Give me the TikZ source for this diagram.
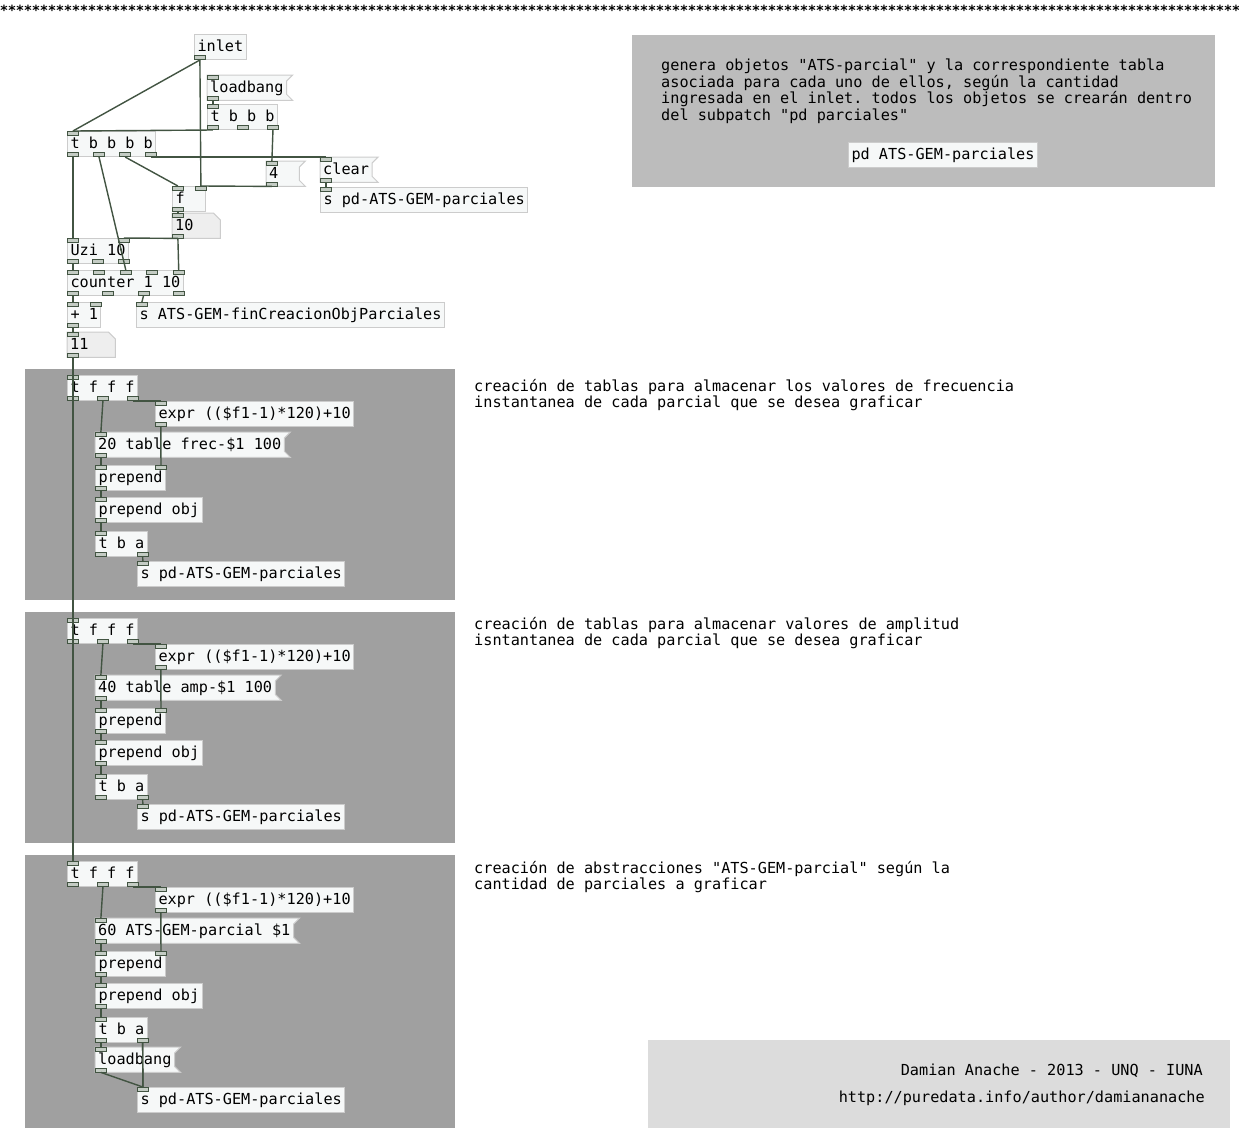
\documentclass[tikz,border=0pt]{standalone}
\usepackage{fontspec}
\setmonofont{DejaVu Sans Mono}
\usetikzlibrary{calc,backgrounds}

\definecolor{secgray}{RGB}{160,160,160}
\definecolor{infogray}{RGB}{188,188,188}
\definecolor{creditgray}{RGB}{220,220,220}
\definecolor{boxfill}{RGB}{246,248,248}
\definecolor{boxline}{RGB}{204,204,204}
\definecolor{atomfill}{RGB}{238,238,238}
\definecolor{cordcol}{RGB}{66,84,66}
\definecolor{iofill}{RGB}{196,204,196}

\newcommand\pdfont{\ttfamily\fontsize{15.2}{16.5}\selectfont}

% inlets and outlets, evenly spread over the box
\newcommand\pdio[3]{%
  \ifnum#2>0
    \foreach \k in {1,...,#2}{%
      \pgfmathsetmacro\iofrac{(\k-1)/max(#2-1,1)}%
      \node[iolet,anchor=north west] (#1-i\k) at ($(#1.north west)!\iofrac!([xshift=-11pt]#1.north east)$) {};}%
  \fi
  \ifnum#3>0
    \foreach \k in {1,...,#3}{%
      \pgfmathsetmacro\iofrac{(\k-1)/max(#3-1,1)}%
      \node[iolet,anchor=south west] (#1-o\k) at ($(#1.south west)!\iofrac!([xshift=-11pt]#1.south east)$) {};}%
  \fi}
\newcommand\pdobj[6][]{\node[pdobj,#1] (#2) at (#3) {#4};\pdio{#2}{#5}{#6}}
\newcommand\pdmsg[6][]{\node[pdbox,#1] (#2) at (#3) {#4};
  \begin{scope}[on background layer]
    \filldraw[draw=boxline,fill=boxfill,line width=1pt] (#2.north west) -- ([xshift=6pt]#2.north east)
      -- ([yshift=-6pt]#2.north east) -- ([yshift=6pt]#2.south east)
      -- ([xshift=6pt]#2.south east) -- (#2.south west) -- cycle;
  \end{scope}\pdio{#2}{#5}{#6}}
\newcommand\pdatom[5]{\node[pdbox,text width=42pt] (#1) at (#2) {#3};
  \begin{scope}[on background layer]
    \filldraw[draw=boxline,fill=atomfill,line width=1pt] (#1.north west) -- ([xshift=-7pt]#1.north east)
      -- ([yshift=-7pt]#1.north east) -- (#1.south east) -- (#1.south west) -- cycle;
  \end{scope}\pdio{#1}{#4}{#5}}

\begin{document}
\begin{tikzpicture}[x=1pt,y=-1pt,every node/.style={font=\pdfont},
    pdbox/.style={anchor=north west,inner xsep=3pt,inner ysep=0pt,minimum height=25pt,
      text height=12pt,text depth=3pt,align=left},
    pdobj/.style={pdbox,draw=boxline,fill=boxfill,line width=1pt},
    iolet/.style={draw=cordcol,fill=iofill,line width=.8pt,inner sep=0pt,
      minimum width=11pt,minimum height=4pt},
    cord/.style={cordcol,line width=1.4pt},
    comment/.style={anchor=north west,inner sep=0pt,align=left}]
    \useasboundingbox (0,0) rectangle (1239,1128);
    \begin{scope}[on background layer]
        \fill[white] (0,0) rectangle (1239,1128);
        \fill[infogray] (632,35) rectangle (1215,187);
        \fill[creditgray] (648,1040) rectangle (1230,1128);
        \foreach \sx/\cb in {0/600,1/600,2/642}
            \fill[secgray] (25,{369+243*\sx}) rectangle (455,{\cb+243*\sx});
    \end{scope}
    \foreach \i in {0,...,154}
        \node[inner sep=0pt,font=\ttfamily\bfseries\fontsize{14}{14}\selectfont] (ast\i) at (4+8*\i,10) {*};

    % contador de parciales
    \pdobj{inlet}{194,34}{inlet}{0}{1}
    \pdmsg{loadbang}{207,75}{loadbang}{1}{1}
    \pdobj{tbbb}{207,104}{t b b b}{1}{3}
    \pdobj{tbbbb}{67,131}{t b b b b}{1}{4}
    \pdmsg[text width=27pt]{four}{266,161}{4}{1}{1}
    \pdmsg{clear}{320,157}{clear}{1}{1}
    \pdobj{spdtop}{320,187}{s pd-ATS-GEM-parciales}{1}{0}
    \pdobj[text width=27pt]{f}{172,186}{f}{2}{1}
    \pdatom{ten}{172,213}{10}{1}{1}
    \pdobj{uzi}{67,238}{Uzi 10}{2}{3}
    \pdobj{counter}{67,270}{counter 1 10}{5}{4}
    \pdobj{plus}{67,302}{+ 1}{2}{1}
    \pdobj{sfin}{136,302}{s ATS-GEM-finCreacionObjParciales}{1}{0}
    \pdatom{eleven}{67,332}{11}{1}{1}
    \draw[cord] (inlet-o1.south) -- (tbbbb-i1.north);
    \draw[cord] (inlet-o1.south) -- (f-i2.north);
    \draw[cord] (loadbang-o1.south) -- (tbbb-i1.north);
    \draw[cord] (tbbb-o1.south) -- (tbbbb-i1.north);
    \draw[cord] (tbbb-o3.south) -- (four-i1.north);
    \draw[cord] (tbbbb-o1.south) -- (uzi-i1.north);
    \draw[cord] (tbbbb-o2.south) -- (counter-i3.north);
    \draw[cord] (tbbbb-o3.south) -- (f-i1.north);
    \draw[cord] (tbbbb-o4.south) -- (clear-i1.north);
    \draw[cord] (four-o1.south) -- (f-i2.north);
    \draw[cord] (clear-o1.south) -- (spdtop-i1.north);
    \draw[cord] (f-o1.south) -- (ten-i1.north);
    \draw[cord] (ten-o1.south) -- (uzi-i2.north);
    \draw[cord] (ten-o1.south) -- (counter-i5.north);
    \draw[cord] (uzi-o1.south) -- (counter-i1.north);
    \draw[cord] (counter-o1.south) -- (plus-i1.north);
    \draw[cord] (counter-o3.south) -- (sfin-i1.north);
    \draw[cord] (plus-o1.south) -- (eleven-i1.north);

    % una seccion por cada tipo de objeto creado
    \foreach \sx/\msgtxt in {0/{20 table frec-\$1 100},1/{40 table amp-\$1 100},2/{60 ATS-GEM-parcial \$1}}{
        \begin{scope}[yshift={-243*\sx}]
            \pdobj{tfff\sx}{67,375}{t f f f}{1}{3}
            \pdobj{expr\sx}{155,401}{expr ((\$f1-1)*120)+10}{1}{1}
            \pdmsg{tab\sx}{95,432}{\msgtxt}{1}{1}
            \pdobj{prep\sx}{95,465}{prepend}{2}{1}
            \pdobj{prepobj\sx}{95,497}{prepend obj}{1}{1}
            \pdobj{tba\sx}{95,531}{t b a}{1}{2}
            \pgfmathsetmacro\sy{\sx<2 ? 561 : 601}
            \pdobj{send\sx}{137,\sy}{s pd-ATS-GEM-parciales}{1}{0}
        \end{scope}
        \draw[cord] (eleven-o1.south) -- (tfff\sx-i1.north);
        \draw[cord] (tfff\sx-o2.south) -- (tab\sx-i1.north);
        \draw[cord] (tfff\sx-o3.south) -- (expr\sx-i1.north);
        \draw[cord] (expr\sx-o1.south) -- (prep\sx-i2.north);
        \draw[cord] (tab\sx-o1.south) -- (prep\sx-i1.north);
        \draw[cord] (prep\sx-o1.south) -- (prepobj\sx-i1.north);
        \draw[cord] (prepobj\sx-o1.south) -- (tba\sx-i1.north);
        \draw[cord] (tba\sx-o2.south) -- (send\sx-i1.north);
    }
    \pdmsg{lbmsg}{95,1047}{loadbang}{1}{1}
    \draw[cord] (tba2-o1.south) -- (lbmsg-i1.north);
    \draw[cord] (lbmsg-o1.south) -- (send2-i1.north);
    \draw[cord] (tba2-o2.south) -- (send2-i1.north);

    % comentarios
    \node[comment] (info) at (661,59) {genera objetos "ATS-parcial" y la correspondiente tabla\\
        asociada para cada uno de ellos, según la cantidad\\
        ingresada en el inlet. todos los objetos se crearán dentro\\
        del subpatch "pd parciales"};
    \node[pdobj] (pdsub) at (848,142) {pd ATS-GEM-parciales};
    \node[comment] (frectxt) at (474,379) {creación de tablas para almacenar los valores de frecuencia\\
        instantanea de cada parcial que se desea graficar};
    \node[comment] (amptxt) at (474,617) {creación de tablas para almacenar valores de amplitud\\
        isntantanea de cada parcial que se desea graficar};
    \node[comment] (abstxt) at (474,861) {creación de abstracciones "ATS-GEM-parcial" según la\\
        cantidad de parciales a graficar};
    \node[anchor=east,inner sep=0pt] (credit) at (1203,1071) {Damian Anache - 2013 - UNQ - IUNA};
    \node[anchor=east,inner sep=0pt] (url) at (1205,1098) {http://puredata.info/author/damiananache};
\end{tikzpicture}
\end{document}
